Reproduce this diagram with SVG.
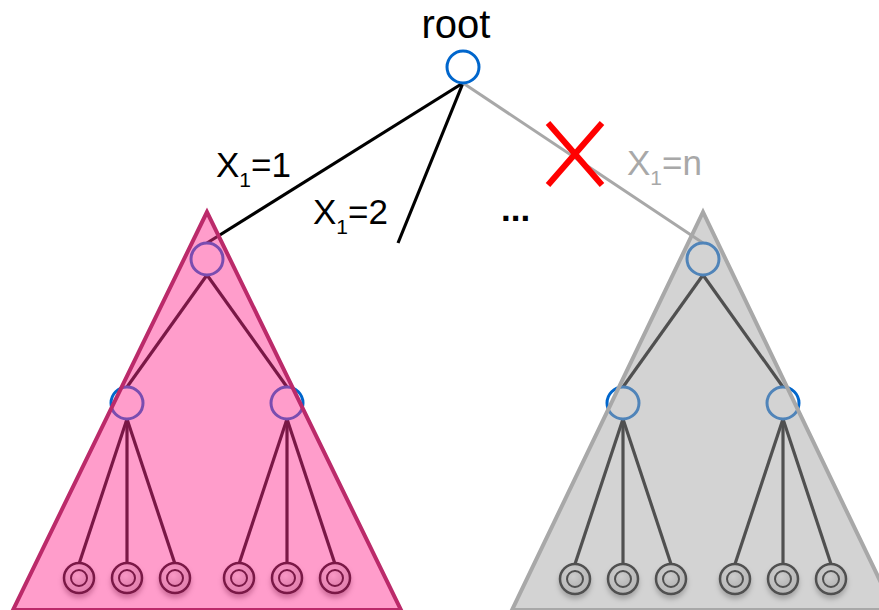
<svg xmlns="http://www.w3.org/2000/svg" width="879" height="610" viewBox="0 0 879 610">
<defs>
<radialGradient id="leafGrad" cx="0.4" cy="0.35" r="0.7">
<stop offset="0" stop-color="#f4f4f4"/>
<stop offset="1" stop-color="#c4c4c4"/>
</radialGradient>
<filter id="shadow" x="-50%" y="-50%" width="200%" height="200%">
<feDropShadow dx="0" dy="4" stdDeviation="2.5" flood-color="#000" flood-opacity="0.35"/>
</filter>
<style>
.edge{stroke:#000;stroke-width:3.2;fill:none}
.edge-gray{stroke:#a8a8a8;stroke-width:3;fill:none}
.node{fill:none;stroke:#0066cc;stroke-width:3}
.leaf-o{fill:url(#leafGrad);stroke:#000;stroke-width:2.5}
.leaf-i{fill:url(#leafGrad);stroke:#000;stroke-width:2}
.lbl{font-family:"Liberation Sans",Arial,sans-serif;font-size:35px;fill:#000}
</style>
<g id="leaf">
<g filter="url(#shadow)"><circle cx="0" cy="0" r="15" class="leaf-o"/></g>
<circle cx="0" cy="0" r="8" class="leaf-i"/>
</g>
</defs>
<rect width="879" height="610" fill="#fff"/>
<g id="connectors">
<line class="edge" x1="463" y1="83" x2="207" y2="243"/>
<line class="edge" x1="463" y1="83" x2="398" y2="243"/>
<line class="edge-gray" x1="463" y1="83" x2="703" y2="243"/>
<line class="edge" x1="207" y1="275" x2="127" y2="387"/>
<line class="edge" x1="207" y1="275" x2="287" y2="387"/>
<line class="edge" x1="127" y1="419" x2="79" y2="564"/>
<line class="edge" x1="127" y1="419" x2="127" y2="564"/>
<line class="edge" x1="127" y1="419" x2="175" y2="564"/>
<line class="edge" x1="287" y1="419" x2="239" y2="564"/>
<line class="edge" x1="287" y1="419" x2="287" y2="564"/>
<line class="edge" x1="287" y1="419" x2="335" y2="564"/>
<line class="edge" x1="703" y1="275" x2="623" y2="387"/>
<line class="edge" x1="703" y1="275" x2="783" y2="387"/>
<line class="edge" x1="623" y1="419" x2="575" y2="564"/>
<line class="edge" x1="623" y1="419" x2="623" y2="564"/>
<line class="edge" x1="623" y1="419" x2="671" y2="564"/>
<line class="edge" x1="783" y1="419" x2="735" y2="564"/>
<line class="edge" x1="783" y1="419" x2="783" y2="564"/>
<line class="edge" x1="783" y1="419" x2="831" y2="564"/>
</g>
<g id="root"><circle class="node" cx="463" cy="67" r="16"/></g>
<g id="L"><circle class="node" cx="207" cy="259" r="16"/></g>
<g id="LL"><circle class="node" cx="127" cy="403" r="16"/></g>
<g id="LR"><circle class="node" cx="287" cy="403" r="16"/></g>
<g id="R"><circle class="node" cx="703" cy="259" r="16"/></g>
<g id="RL"><circle class="node" cx="623" cy="403" r="16"/></g>
<g id="RR"><circle class="node" cx="783" cy="403" r="16"/></g>
<g id="leaves">
<use href="#leaf" x="79" y="578"/>
<use href="#leaf" x="127" y="578"/>
<use href="#leaf" x="175" y="578"/>
<use href="#leaf" x="239" y="578"/>
<use href="#leaf" x="287" y="578"/>
<use href="#leaf" x="335" y="578"/>
<use href="#leaf" x="575" y="579"/>
<use href="#leaf" x="623" y="579"/>
<use href="#leaf" x="671" y="579"/>
<use href="#leaf" x="735" y="579"/>
<use href="#leaf" x="783" y="579"/>
<use href="#leaf" x="831" y="579"/>
</g>
<g id="subtree-pink">
<polygon points="207,212 13,610 401,610" fill="#ff3292" fill-opacity="0.48" stroke="none"/>
<polygon points="207,212 13,610 401,610" fill="none" stroke="#bb2a6a" stroke-width="4" stroke-linejoin="miter"/>
</g>
<g id="subtree-gray">
<polygon points="703,212 512,610 894,610" fill="#a5a5a5" fill-opacity="0.486" stroke="none"/>
<polygon points="703,212 512,610 894,610" fill="none" stroke="#a8a8a8" stroke-width="4"/>
</g>
<g id="cross">
<line x1="548" y1="123" x2="602" y2="185" stroke="#ff0000" stroke-width="6"/>
<line x1="602" y1="123" x2="548" y2="185" stroke="#ff0000" stroke-width="6"/>
</g>
<g id="labels">
<text x="456" y="38" text-anchor="middle" font-family="Liberation Sans, Arial, sans-serif" font-size="40" fill="#000">root</text>
<text class="lbl" x="216" y="177">X<tspan font-size="21" dy="10">1</tspan><tspan dy="-10">=1</tspan></text>
<text class="lbl" x="313" y="224">X<tspan font-size="21" dy="10">1</tspan><tspan dy="-10">=2</tspan></text>
<text class="lbl" x="627" y="175" style="fill:#a8a8a8">X<tspan font-size="21" dy="10">1</tspan><tspan dy="-10">=n</tspan></text>
<text class="lbl" x="501" y="221" font-weight="bold" font-size="37">...</text>
</g>
</svg>
